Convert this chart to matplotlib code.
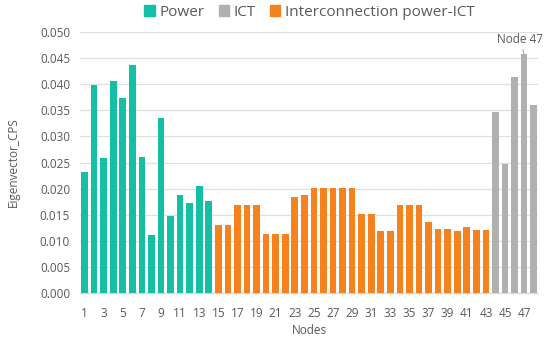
import matplotlib.pyplot as plt
from matplotlib.patches import Patch

plt.rcParams['font.family'] = ['Open Sans', 'DejaVu Sans']

# valores
power_nodes = list(range(1, 15))
power_vals = [0.0232, 0.0398, 0.0258, 0.0407, 0.0373, 0.0436, 0.0260,
              0.0112, 0.0336, 0.0148, 0.0187, 0.0172, 0.0205, 0.0176]

inter_nodes = list(range(15, 44))
inter_vals = [0.0131, 0.0131, 0.0168, 0.0168, 0.0168, 0.0114, 0.0114, 0.0114,
              0.0184, 0.0187, 0.0201, 0.0201, 0.0201, 0.0201, 0.0201,
              0.0152, 0.0152, 0.0118, 0.0118, 0.0168, 0.0168, 0.0168,
              0.0136, 0.0122, 0.0122, 0.0119, 0.0127, 0.0121, 0.0121]

ict_nodes = list(range(44, 49))
ict_vals = [0.0347, 0.0248, 0.0413, 0.0458, 0.0361]

c_power = '#14BFA5'
c_ict = '#B0B0B0'
c_inter = '#F5821F'
txt = '#595959'

fig = plt.figure(figsize=(5.5, 3.4), dpi=100)
ax = fig.add_axes([0.145, 0.138, 0.834, 0.768])

w = 0.7
ax.bar(power_nodes, power_vals, width=w, color=c_power, zorder=3)
ax.bar(inter_nodes, inter_vals, width=w, color=c_inter, zorder=3)
ax.bar(ict_nodes, ict_vals, width=w, color=c_ict, zorder=3)

ax.set_xlim(0.5, 48.5)
ax.set_ylim(0, 0.050)
ax.set_yticks([i * 0.005 for i in range(11)])
ax.set_yticklabels(['%0.3f' % (i * 0.005) for i in range(11)])
ax.set_xticks(list(range(1, 48, 2)))
ax.tick_params(length=0, labelsize=8.5, labelcolor=txt)
ax.tick_params(axis='x', pad=10)
ax.tick_params(axis='y', pad=7)
ax.grid(axis='y', color='#E0E0E0', linewidth=0.9, zorder=0)
for s in ['top', 'right', 'left']:
    ax.spines[s].set_visible(False)
ax.spines['bottom'].set_color('#D9D9D9')

ax.set_xlabel('Nodes', fontsize=8.5, color=txt, labelpad=3)
ax.set_ylabel('Eigenvector_CPS', fontsize=8.5, color=txt, labelpad=14)

# anotação do nó 47
ax.annotate('Node 47', xy=(47, ict_vals[3]), xytext=(46.6, 0.0485),
            fontsize=8.5, color=txt, ha='center', va='center',
            arrowprops=dict(arrowstyle='-', color='#A6A6A6', lw=0.7,
                            shrinkA=4, shrinkB=0))

handles = [Patch(color=c_power, label='Power'),
           Patch(color=c_ict, label='ICT'),
           Patch(color=c_inter, label='Interconnection power-ICT')]
leg = fig.legend(handles=handles, loc='center', bbox_to_anchor=(0.563, 0.963),
                 ncol=3, frameon=False, fontsize=11, handlelength=0.7,
                 handleheight=0.7, handletextpad=0.3, columnspacing=0.9)
for t in leg.get_texts():
    t.set_color(txt)

plt.savefig('out.png', dpi=100)
